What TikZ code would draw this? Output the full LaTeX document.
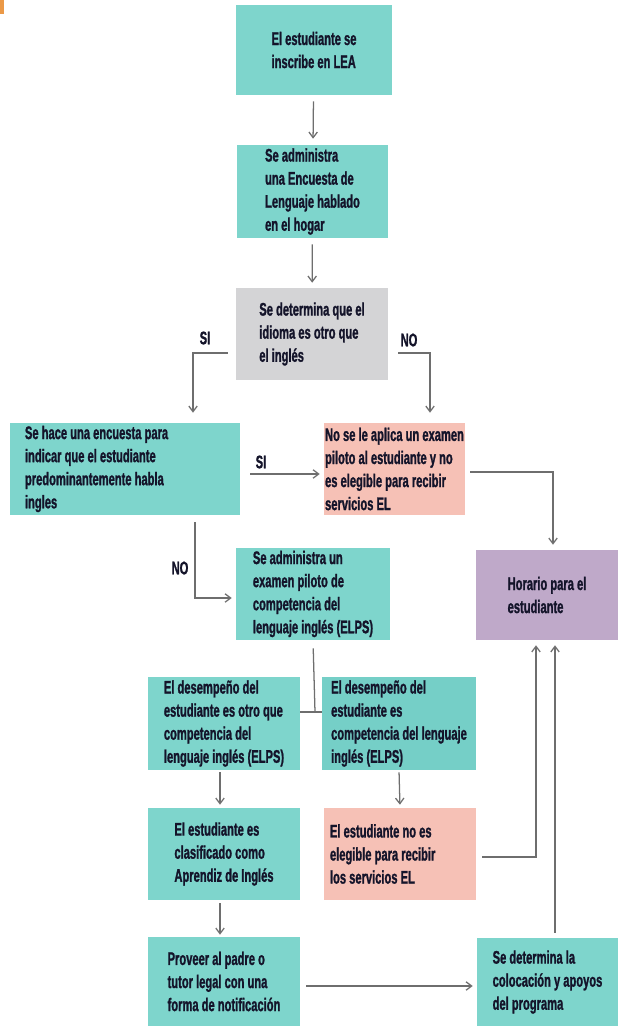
\documentclass[tikz,border=0pt]{standalone}
\usepackage{fontspec}
\usepackage{xcolor}
\usetikzlibrary{arrows.meta}
\newfontfamily\cajafont{Liberation Sans Bold}[FakeStretch=0.61, FakeBold=1.2]

\definecolor{verde}{HTML}{7ED5CC}
\definecolor{gris}{HTML}{D4D4D6}
\definecolor{rosa}{HTML}{F6C1B6}
\definecolor{lila}{HTML}{BFA9C9}
\definecolor{linea}{HTML}{6E6E6E}
\definecolor{texto}{HTML}{14142A}

\tikzset{
  caja/.style={fill=verde, text=texto, align=left, inner xsep=0pt, inner ysep=0pt,
    font=\cajafont\fontsize{13}{16.4}\selectfont},
  etiqueta/.style={text=texto, inner sep=0pt,
    font=\cajafont\fontsize{13}{16.4}\selectfont},
  flecha/.style={draw=linea, line width=0.9pt, -{Straight Barb[length=4pt,width=6pt]}},
  trazo/.style={draw=linea, line width=0.9pt}
}

\begin{document}
\begin{tikzpicture}[x=0.025cm, y=-0.025cm]
				\useasboundingbox (0,0) rectangle (618,1026);
				\fill[orange!60!brown!80] (0,0) rectangle (4,14);
				% cajas
				\node (ins) at (314,50) [caja, minimum width=3.9cm, minimum height=2.25cm] {El estudiante se\\inscribe en LEA};
				\node (enc) at (312.5,191.5) [caja, minimum width=3.775cm, minimum height=2.325cm] {Se administra\\una Encuesta de\\Lenguaje hablado\\en el hogar};
				\node (det) at (312,334) [caja, fill=gris, minimum width=3.8cm, minimum height=2.3cm] {Se determina que el\\idioma es otro que\\el inglés};
				\node (hab) at (125,469) [caja, align=flush left, minimum height=2.3cm, inner xsep=0.375cm, text width=5cm] {Se hace una encuesta para\\indicar que el estudiante\\predominantemente habla\\ingles};
				\node (nop) at (394.5,469) [caja, fill=rosa, minimum width=3.525cm, minimum height=2.3cm] {No se le aplica un examen\\piloto al estudiante y no\\es elegible para recibir\\servicios EL};
				\node (hor) at (547,595) [caja, fill=lila, minimum width=3.55cm, minimum height=2.25cm] {Horario para el\\estudiante};
				\node (elps) at (313,594) [caja, minimum width=3.85cm, minimum height=2.3cm] {Se administra un\\examen piloto de\\competencia del\\lenguaje inglés (ELPS)};
				\node (otro) at (224,723.5) [caja, minimum width=3.8cm, minimum height=2.325cm] {El desempeño del\\estudiante es otro que\\competencia del\\lenguaje inglés (ELPS)};
				\node (comp) at (399,723.5) [caja, fill=verde!93!teal, minimum width=3.85cm, minimum height=2.325cm] {El desempeño del\\estudiante es\\competencia del lenguaje\\inglés (ELPS)};
				\node (clas) at (224,854) [caja, minimum width=3.8cm, minimum height=2.3cm] {El estudiante es\\clasificado como\\Aprendiz de Inglés};
				\node (noel) at (400,854) [caja, fill=rosa, align=flush left, minimum height=2.3cm, inner xsep=0.15cm, text width=3.5cm] {El estudiante no es\\elegible para recibir\\los servicios EL};
				\node (prov) at (224,981.5) [caja, minimum width=3.8cm, minimum height=2.225cm] {Proveer al padre o\\tutor legal con una\\forma de notificación};
				\node (col) at (547.5,982) [caja, minimum width=3.525cm, minimum height=2.2cm] {Se determina la\\colocación y apoyos\\del programa};
				% etiquetas
				\node (si1) at (205,338) [etiqueta] {SI};
				\node (no1) at (409,340) [etiqueta] {NO};
				\node (si2) at (261,462) [etiqueta] {SI};
				\node (no2) at (180,568) [etiqueta] {NO};
				% puntos de quiebre
				\coordinate (union) at (315,712);
				% conectores
				\draw[flecha, shorten <=0.15cm, shorten >=0.15cm] (ins) -- (enc);
				\draw[flecha, shorten <=0.15cm, shorten >=0.125cm] (enc) -- (det);
				\draw[flecha] ([xshift=-0.2cm,yshift=-0.475cm]det.west) -| ([xshift=1.7cm,yshift=0.25cm]hab.north);
				\draw[flecha] ([xshift=0.25cm,yshift=-0.475cm]det.east) -| ([xshift=0.8875cm,yshift=0.25cm]nop.north);
				\draw[flecha, shorten <=0.25cm, shorten >=0.1cm] ([yshift=-0.125cm]hab.east) -- ([yshift=-0.125cm]nop.west);
				\draw[flecha] ([xshift=0.125cm,yshift=-0.075cm]nop.east) -| ([xshift=0.15cm,yshift=0.125cm]hor.north);
				\draw[flecha] ([xshift=1.75cm,yshift=-0.175cm]hab.south) |- ([xshift=-0.1cm,yshift=-0.1cm]elps.west);
				\draw[trazo, shorten <=0.2cm] (elps.south) -- (union);
				\draw[trazo] (otro.east |- union) -- (comp.west |- union);
				\draw[flecha, shorten <=0.05cm, shorten >=0.075cm] ([xshift=-0.1cm]otro.south) -- ([xshift=-0.1cm]clas.north);
				\draw[flecha, shorten <=0.05cm, shorten >=0.075cm] (comp.south) -- (noel.north);
				\draw[flecha, shorten <=0.075cm, shorten >=0.05cm] ([xshift=-0.1cm]clas.south) -- ([xshift=-0.1cm]prov.north);
				\draw[flecha, shorten <=0.15cm, shorten >=0.1cm] ([yshift=-0.1125cm]prov.east) -- ([yshift=-0.1125cm]col.west |- prov.east);
				\draw[flecha] ([xshift=0.15cm,yshift=-0.075cm]noel.east) -| ([xshift=-0.275cm,yshift=-0.125cm]hor.south);
				\draw[flecha, shorten <=0.125cm, shorten >=0.125cm] ([xshift=0.1875cm]col.north) -- ([xshift=0.1875cm]col.north |- hor.south);
			\end{tikzpicture}
\end{document}
